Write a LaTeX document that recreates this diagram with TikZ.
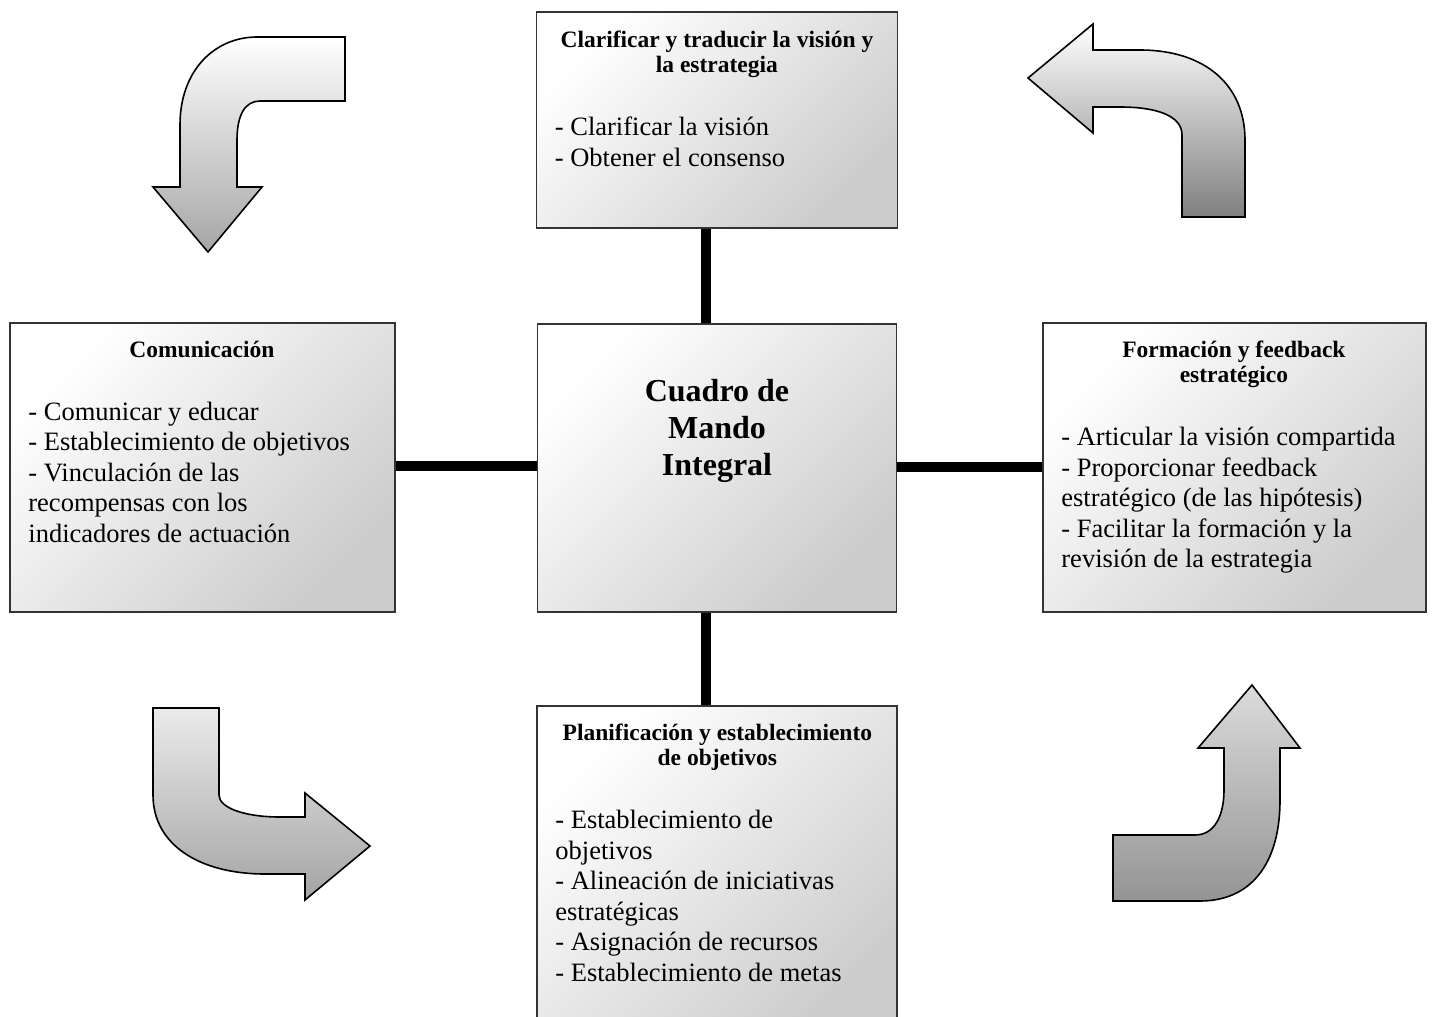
\documentclass[tikz,border=0pt]{standalone}
\usepackage{fontspec}
\setmainfont{Liberation Serif}
\usepackage{tikz}
\newcommand{\titlesize}{\fontsize{23.5}{25.5}\selectfont\bfseries\spaceskip=0.25em plus 0.1em minus 0.02em\relax}
\newcommand{\listsize}{\fontsize{26.5}{30.5}\selectfont\spaceskip=0.25em plus 0.1em minus 0.02em\relax}

\begin{document}
\begin{tikzpicture}[x=1pt, y=-1pt,
  panel/.style={draw=black!80, line width=1.6pt, top color=white, bottom color=black!20, shading angle=45, inner sep=0pt},
  paneltext/.style={inner sep=0pt, anchor=base west},
  link/.style={line width=10pt, line cap=butt},
  bendarrow/.style={draw=black, line width=1.6pt, line join=miter, shading angle=45}]
\useasboundingbox (0, 0) rectangle (1433, 1017);
\node (vision) [panel, minimum width=361pt, minimum height=216pt] at (717, 120) {};
\node (comunic) [panel, minimum width=385pt, minimum height=289pt] at (202.5, 467.5) {};
\node (cmi) [panel, minimum width=359pt, minimum height=288pt] at (717, 468) {};
\node (feedback) [panel, minimum width=383pt, minimum height=289pt] at (1234.5, 467.5) {};
\node (planif) [panel, minimum width=360pt, minimum height=334pt] at (717, 873) {};
\node (vision text) [paneltext, text width=324pt] at ([xshift=19pt, yshift=-36pt]vision.north west)
  {{\titlesize\centering Clarificar y traducir la visión y\\la estrategia\par}\vspace{32.5pt}
   {\listsize\raggedright - Clarificar la visión\\- Obtener el consenso\par}};
\node (comunic text) [paneltext, text width=347pt] at ([xshift=19pt, yshift=-35pt]comunic.north west)
  {{\titlesize\centering Comunicación\par}\vspace{32.5pt}
   {\listsize\raggedright - Comunicar y educar\\- Establecimiento de objetivos\\- Vinculación de las\\recompensas con los\\indicadores de actuación\par}};
\node (feedback text) [paneltext, text width=345pt] at ([xshift=19pt, yshift=-35pt]feedback.north west)
  {{\titlesize\centering Formación y feedback\\estratégico\par}\vspace{32.5pt}
   {\listsize\raggedright - Articular la visión compartida\\- Proporcionar feedback\\estratégico (de las hipótesis)\\- Facilitar la formación y la\\revisión de la estrategia\par}};
\node (planif text) [paneltext, text width=324pt] at ([xshift=19pt, yshift=-35pt]planif.north west)
  {{\titlesize\centering Planificación y establecimiento\\de objetivos\par}\vspace{32.5pt}
   {\listsize\raggedright - Establecimiento de\\objetivos\\- Alineación de iniciativas\\estratégicas\\- Asignación de recursos\\- Establecimiento de metas\par}};
\node (cmi text) [inner sep=0pt, anchor=base, text width=330pt] at ([yshift=-78pt]cmi.north)
  {\fontsize{32}{37}\selectfont\bfseries\spaceskip=0.25em\relax\centering Cuadro de\\Mando\\Integral\par};
\draw [link] ([xshift=-11pt]vision.south) -- ([xshift=-11pt]vision.south |- cmi.north);
\draw [link] ([xshift=-11pt]cmi.south) -- ([xshift=-11pt]cmi.south |- planif.north);
\draw [link] ([yshift=1.5pt]comunic.east) -- ([yshift=1.5pt]comunic.east -| cmi.west);
\draw [link] ([yshift=1.5pt]cmi.east) -- ([yshift=1.5pt]cmi.east -| feedback.west);
\draw [bendarrow, top color=white, bottom color=black!35] (257, 37) -- (345, 37) -- (345, 101) -- (260, 101)
  .. controls (245, 101) and (237, 115) .. (237, 140) -- (237, 187) -- (262, 187) -- (208, 252)
  -- (153, 187) -- (180, 187) -- (180, 125) .. controls (180, 70) and (215, 37) .. (257, 37) -- cycle;
\draw [bendarrow, top color=white, bottom color=black!50] (1028, 78) -- (1093, 24) -- (1093, 50) -- (1140, 50)
  .. controls (1205, 50) and (1245, 85) .. (1245, 140) -- (1245, 217) -- (1182, 217) -- (1182, 135)
  .. controls (1182, 115) and (1155, 107) .. (1120, 107) -- (1093, 107) -- (1093, 133) -- cycle;
\draw [bendarrow, top color=black!8, bottom color=black!36] (153, 708) -- (219, 708) -- (219, 795)
  .. controls (219, 808) and (245, 817) .. (280, 817) -- (305, 817) -- (305, 793) -- (370, 846)
  -- (305, 900) -- (305, 874) -- (265, 874) .. controls (200, 874) and (153, 845) .. (153, 795) -- cycle;
\draw [bendarrow, top color=black!14, bottom color=black!42] (1252, 685) -- (1300, 748) -- (1280, 748) -- (1280, 800)
  .. controls (1280, 865) and (1250, 901) .. (1200, 901) -- (1113, 901) -- (1113, 835) -- (1195, 835)
  .. controls (1215, 835) and (1224, 815) .. (1224, 790) -- (1224, 748) -- (1198, 748) -- cycle;
\end{tikzpicture}
\end{document}
